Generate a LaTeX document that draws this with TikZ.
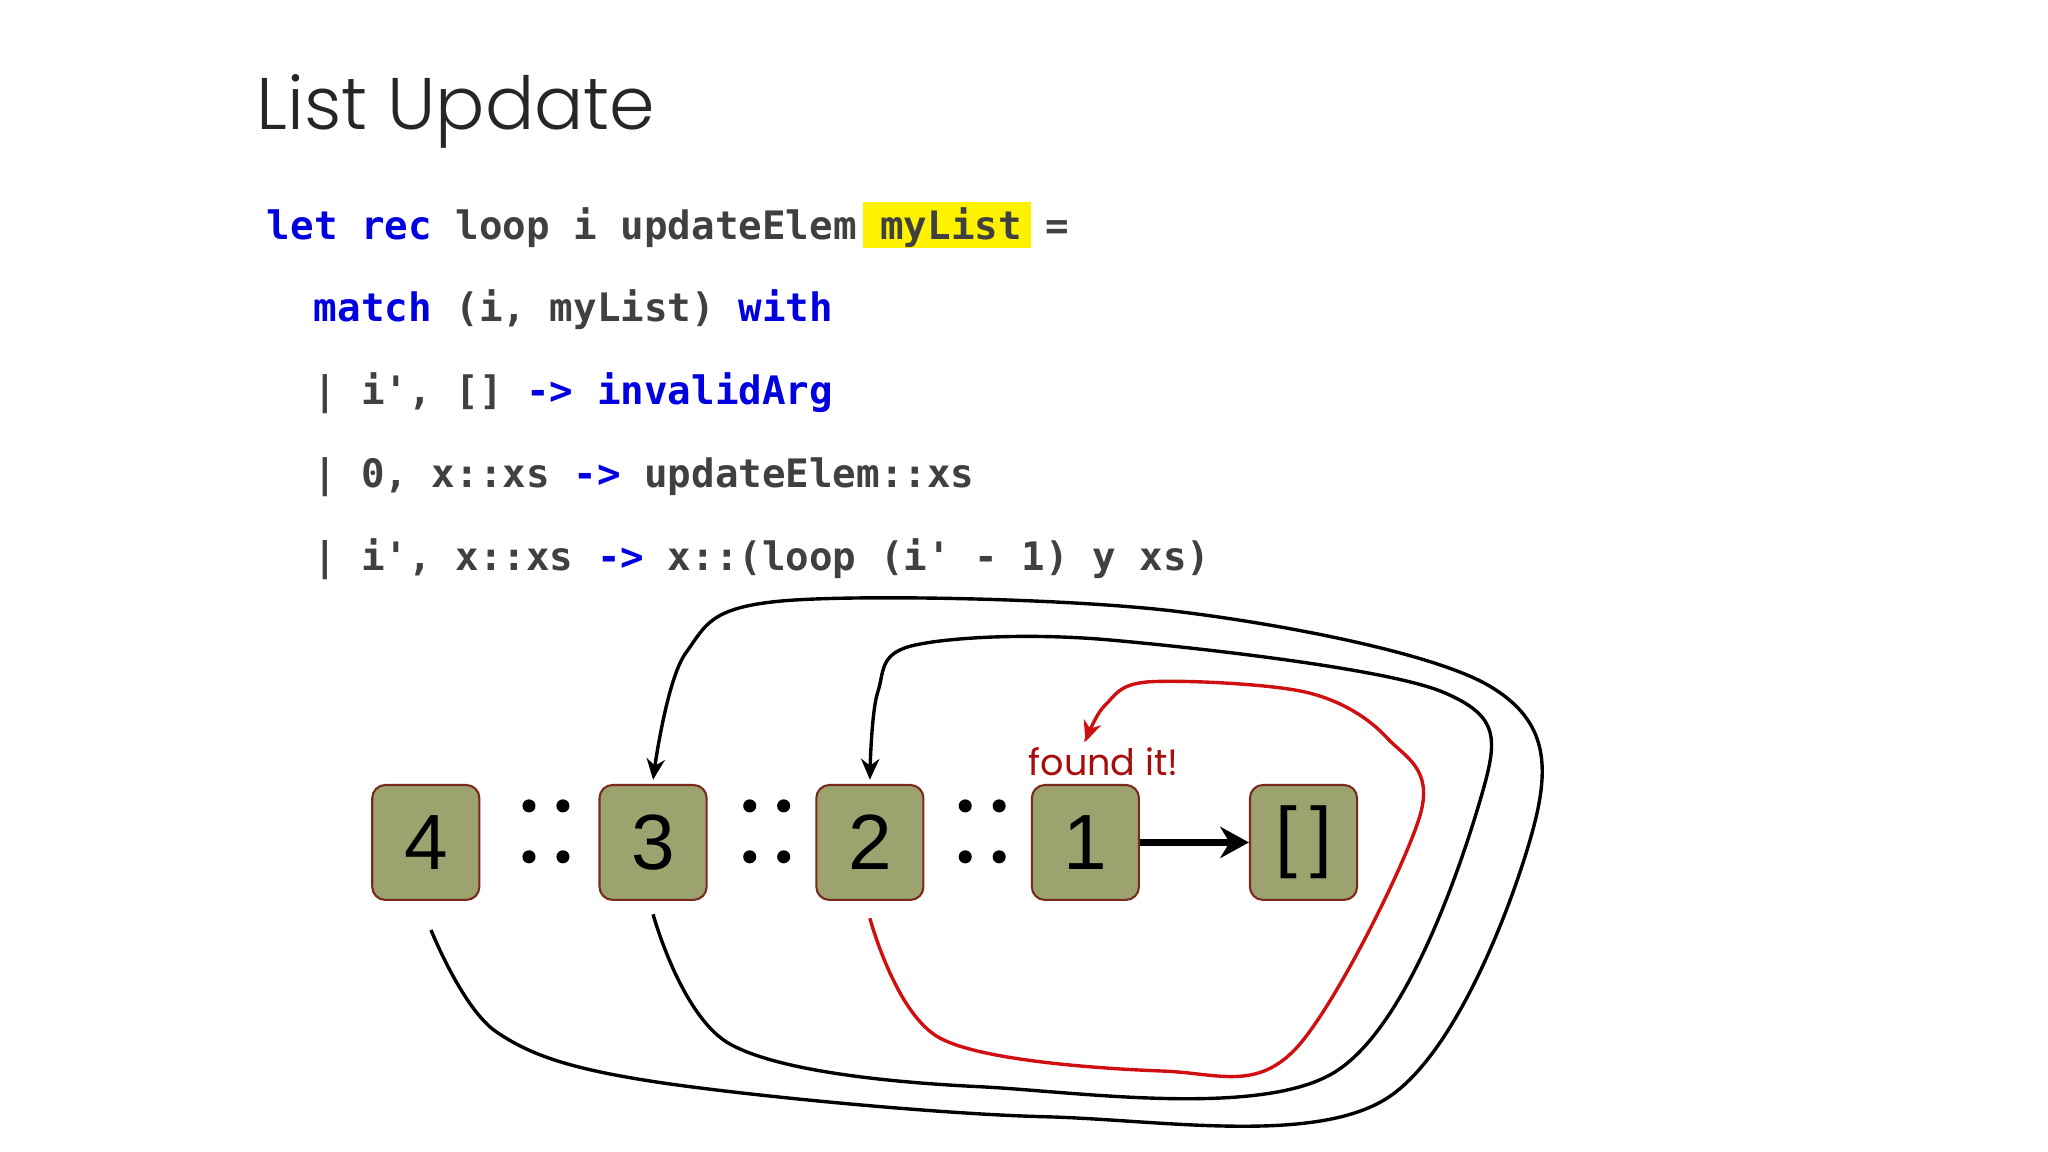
\documentclass[tikz,border=0pt]{standalone}
\usepackage{fontspec}
\setmainfont{Poppins}
\newfontfamily\titlefont{Poppins Light}
\newfontfamily\codefont{DejaVu Sans Mono}
\newfontfamily\boxfont{Liberation Sans}
\usetikzlibrary{arrows.meta}
\definecolor{kw}{HTML}{0000E0}
\definecolor{boxfill}{HTML}{9CA36E}
\definecolor{boxline}{HTML}{7A2A1C}
\definecolor{redc}{HTML}{D01010}
\begin{document}
\begin{tikzpicture}[x=0.5pt,y=-0.5pt,
  code/.style={anchor=base west,inner sep=0,font=\codefont\bfseries\fontsize{15}{18}\selectfont,text=black!75},
  elem/.style={draw=boxline,fill=boxfill,rounded corners=5pt,minimum width=41pt,minimum height=44pt,line width=0.8pt,font=\boxfont\fontsize{30}{30}\selectfont,inner sep=0},
  dot/.style={fill=black,circle,inner sep=0,minimum size=5pt},
  link/.style={line width=1.3pt},
  tip/.style={-{Stealth[length=8pt,width=7pt]}}]
\useasboundingbox (0,0) rectangle (1568,882);
\node[anchor=base west,inner sep=0,font=\titlefont\fontsize{28}{34}\selectfont,text=black!85] (title) at (196,99) {List Update};
\fill[yellow] (661,155) rectangle (789,190);
\node[code] (l1) at (204,183) {\textcolor{kw}{let rec} loop i updateElem myList =};
\node[code] (l2) at (240,246) {\textcolor{kw}{match} (i, myList) \textcolor{kw}{with}};
\node[code] (l3) at (240,310) {| i', [] \textcolor{kw}{-> invalidArg}};
\node[code] (l4) at (240,373) {| 0, x::xs \textcolor{kw}{->} updateElem::xs};
\node[code] (l5) at (240,437) {| i', x::xs \textcolor{kw}{->} x::(loop (i' - 1) y xs)};
\node[elem] (e4) at (326,645) {4};
\node[elem] (e3) at (500,645) {3};
\node[elem] (e2) at (666,645) {2};
\node[elem] (e1) at (831,645) {1};
\node[elem] (e0) at (998,645) {[\,]};
\foreach \x/\n in {418/a,587/b,752/c}{
  \node[dot] (\n1) at (\x-13,617) {}; \node[dot] (\n2) at (\x+13,617) {};
  \node[dot] (\n3) at (\x-13,656) {}; \node[dot] (\n4) at (\x+13,656) {};}
\draw[line width=2.5pt,-{Stealth[length=11pt,width=12pt]}] (e1.east) -- (e0.west);
\coordinate (s4) at (330,712);
\coordinate (s3) at (500,700);
\coordinate (s2) at (666,703);
\draw[link,tip] plot[smooth,tension=0.55] coordinates {(s4) (380,790) (500,828) (800,855) (1060,842) (1175,630) (1140,525) (900,468) (600,460) (525,500) (500,597)};
\draw[link,tip] plot[smooth,tension=0.55] coordinates {(s3) (560,800) (750,832) (1020,822) (1134,610) (1105,530) (850,490) (700,494) (672,530) (666,597)};
\draw[link,redc,tip] plot[smooth,tension=0.55] coordinates {(s2) (720,795) (890,820) (990,805) (1087,625) (1062,565) (1000,530) (880,522) (846,540) (831,568)};
\node[font=\fontsize{14}{16}\selectfont,text=redc!80!black] (found) at (845,583) {found it!};
\end{tikzpicture}
\end{document}
